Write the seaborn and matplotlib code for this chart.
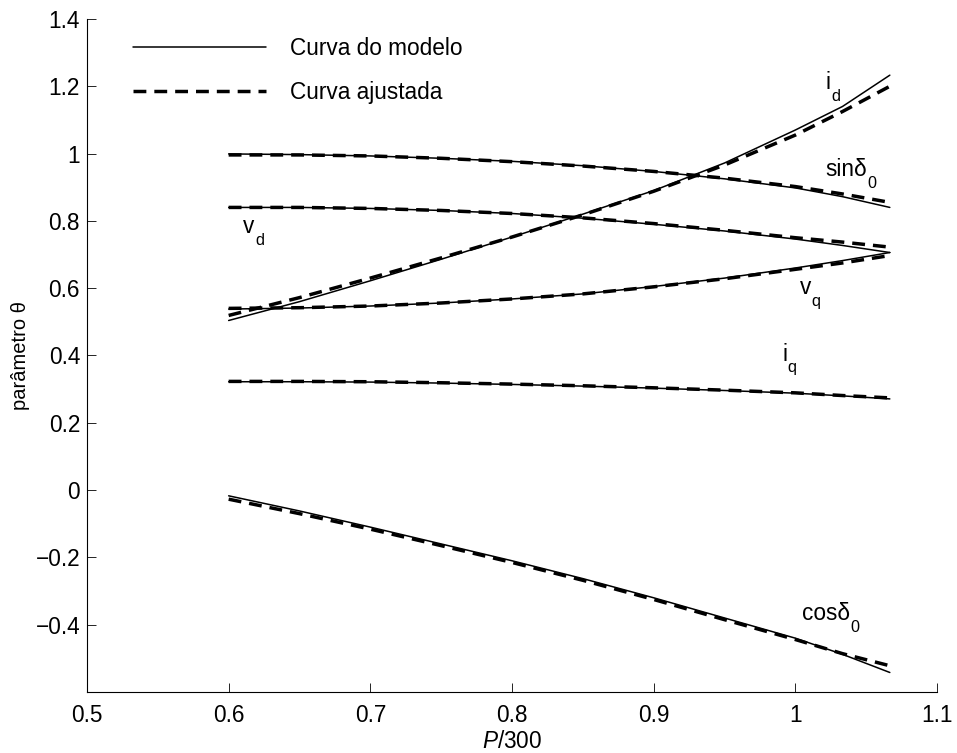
import numpy as np
import pandas as pd
import matplotlib
matplotlib.use("Agg")
import matplotlib.pyplot as plt
from matplotlib.lines import Line2D
import seaborn as sns

# Normalised power P/300
p_norm = [0.6, 0.65, 0.7, 0.75, 0.8, 0.85, 0.9, 0.95, 1.0, 1.0333, 1.0667]

# Model curves (solid)
id_model = [0.504, 0.560, 0.622, 0.686, 0.752, 0.820, 0.890, 0.972, 1.070, 1.140, 1.233]
sin_model = [0.999, 0.997, 0.993, 0.986, 0.977, 0.964, 0.947, 0.925, 0.898, 0.872, 0.840]
vd_model = [0.840, 0.840, 0.837, 0.831, 0.822, 0.808, 0.790, 0.770, 0.746, 0.727, 0.706]
vq_model = [0.538, 0.541, 0.547, 0.556, 0.568, 0.583, 0.605, 0.630, 0.660, 0.682, 0.706]
iq_model = [0.322, 0.322, 0.321, 0.318, 0.314, 0.309, 0.303, 0.296, 0.288, 0.280, 0.271]
cos_model = [-0.017, -0.062, -0.110, -0.160, -0.210, -0.263, -0.320, -0.380, -0.440, -0.488, -0.542]

# Fitted curves (dashed)
id_fit = [0.519, 0.572, 0.630, 0.690, 0.752, 0.818, 0.888, 0.966, 1.055, 1.125, 1.200]
sin_fit = [0.996, 0.996, 0.993, 0.986, 0.976, 0.963, 0.947, 0.927, 0.902, 0.880, 0.855]
vd_fit = [0.840, 0.840, 0.837, 0.831, 0.822, 0.809, 0.792, 0.772, 0.750, 0.737, 0.722]
vq_fit = [0.540, 0.542, 0.547, 0.556, 0.568, 0.583, 0.604, 0.628, 0.656, 0.675, 0.697]
iq_fit = [0.323, 0.323, 0.322, 0.319, 0.315, 0.310, 0.304, 0.297, 0.289, 0.281, 0.274]
cos_fit = [-0.027, -0.070, -0.116, -0.165, -0.215, -0.268, -0.325, -0.385, -0.444, -0.486, -0.522]

curve_names = ["id", "sin", "vd", "vq", "iq", "cos"]
model_values = [id_model, sin_model, vd_model, vq_model, iq_model, cos_model]
fit_values = [id_fit, sin_fit, vd_fit, vq_fit, iq_fit, cos_fit]

legend_labels = ["Curva do modelo", "Curva ajustada"]

# Curve labels: (x, y, main text, subscript)
curve_labels = [
    (1.0216, 1.191, "i", "d"),
    (1.021, 0.933, "sin\u03b4", "0"),
    (0.610, 0.764, "v", "d"),
    (1.003, 0.584, "v", "q"),
    (0.9906, 0.385, "i", "q"),
    (1.0047, -0.385, "cos\u03b4", "0"),
]

x_ticks = [0.5, 0.6, 0.7, 0.8, 0.9, 1.0, 1.1]
x_tick_labels = ["0.5", "0.6", "0.7", "0.8", "0.9", "1", "1.1"]
y_ticks = [-0.4, -0.2, 0.0, 0.2, 0.4, 0.6, 0.8, 1.0, 1.2, 1.4]
y_tick_labels = ["\u22120.4", "\u22120.2", "0", "0.2", "0.4", "0.6", "0.8", "1", "1.2", "1.4"]

sns.set_style("white")
plt.rcParams["font.family"] = ["Liberation Sans", "DejaVu Sans"]
plt.rcParams["mathtext.fontset"] = "custom"
plt.rcParams["mathtext.rm"] = "Liberation Sans"
plt.rcParams["mathtext.it"] = "Liberation Sans:italic"
plt.rcParams["text.color"] = "black"
plt.rcParams["axes.labelcolor"] = "black"
plt.rcParams["xtick.color"] = "black"
plt.rcParams["ytick.color"] = "black"

FS = 16.3
SOLID_LW = 1.1
DASH_LW = 2.5
DASHES = (3.7, 2.3)

fig = plt.figure(figsize=(9.57, 7.53), dpi=100)
ax = fig.add_axes([0.0909, 0.0810, 0.9791 - 0.0909, 0.9748 - 0.0810])

rows = []
for name, mv, fv in zip(curve_names, model_values, fit_values):
    for x, m, f in zip(p_norm, mv, fv):
        rows.append({"x": x, "y": m, "curve": name, "kind": "model"})
        rows.append({"x": x, "y": f, "curve": name, "kind": "fit"})
df = pd.DataFrame(rows)

for name in curve_names:
    sub = df[(df.curve == name) & (df.kind == "model")]
    sns.lineplot(data=sub, x="x", y="y", ax=ax, color="black", lw=SOLID_LW,
                 legend=False, estimator=None, sort=False)
for name in curve_names:
    sub = df[(df.curve == name) & (df.kind == "fit")]
    sns.lineplot(data=sub, x="x", y="y", ax=ax, color="black", lw=DASH_LW,
                 dashes=False, legend=False, estimator=None, sort=False)
# apply dash pattern to the fitted curves
for line in ax.lines[len(curve_names):]:
    line.set_dashes(DASHES)
    line.set_dash_capstyle("butt")

ax.set_xlim(0.5, 1.1)
ax.set_ylim(-0.6, 1.4)
ax.set_xticks(x_ticks)
ax.set_xticklabels(x_tick_labels)
ax.set_yticks(y_ticks)
ax.set_yticklabels(y_tick_labels)
ax.tick_params(bottom=True, left=True, top=False, right=False,
               direction="in", length=6.5, width=0.6,
               labelsize=FS, labelcolor="black")
ax.tick_params(axis="x", pad=8.5)
ax.tick_params(axis="y", pad=5)
for side in ["top", "right"]:
    ax.spines[side].set_visible(False)
for side in ["left", "bottom"]:
    ax.spines[side].set_linewidth(0.8)
    ax.spines[side].set_color("black")

ax.set_xlabel("$P$/300", fontsize=FS, labelpad=2)
ax.set_ylabel("par\u00e2metro \u03b8", fontsize=14.5, labelpad=4)

handles = [
    Line2D([], [], color="black", lw=SOLID_LW),
    Line2D([], [], color="black", lw=DASH_LW, dashes=DASHES, dash_capstyle="butt"),
]
ax.legend(handles, legend_labels, loc="upper left", bbox_to_anchor=(0.054, 0.973),
          frameon=False, fontsize=FS, handlelength=5.9, handletextpad=1.06,
          labelspacing=0.9, borderpad=0, borderaxespad=0)

# curve labels with lowered subscripts
fig.canvas.draw()
for x, y, main, subtxt in curve_labels:
    t = ax.text(x, y, main, ha="left", va="baseline", fontsize=FS)
    fig.canvas.draw()
    w_pts = t.get_window_extent().width * 72.0 / fig.dpi
    ax.annotate(subtxt, xy=(x, y), xytext=(w_pts + 0.5, -8.6),
                textcoords="offset points", ha="left", va="baseline",
                fontsize=FS * 0.72)

fig.savefig("out.png", dpi=100)
